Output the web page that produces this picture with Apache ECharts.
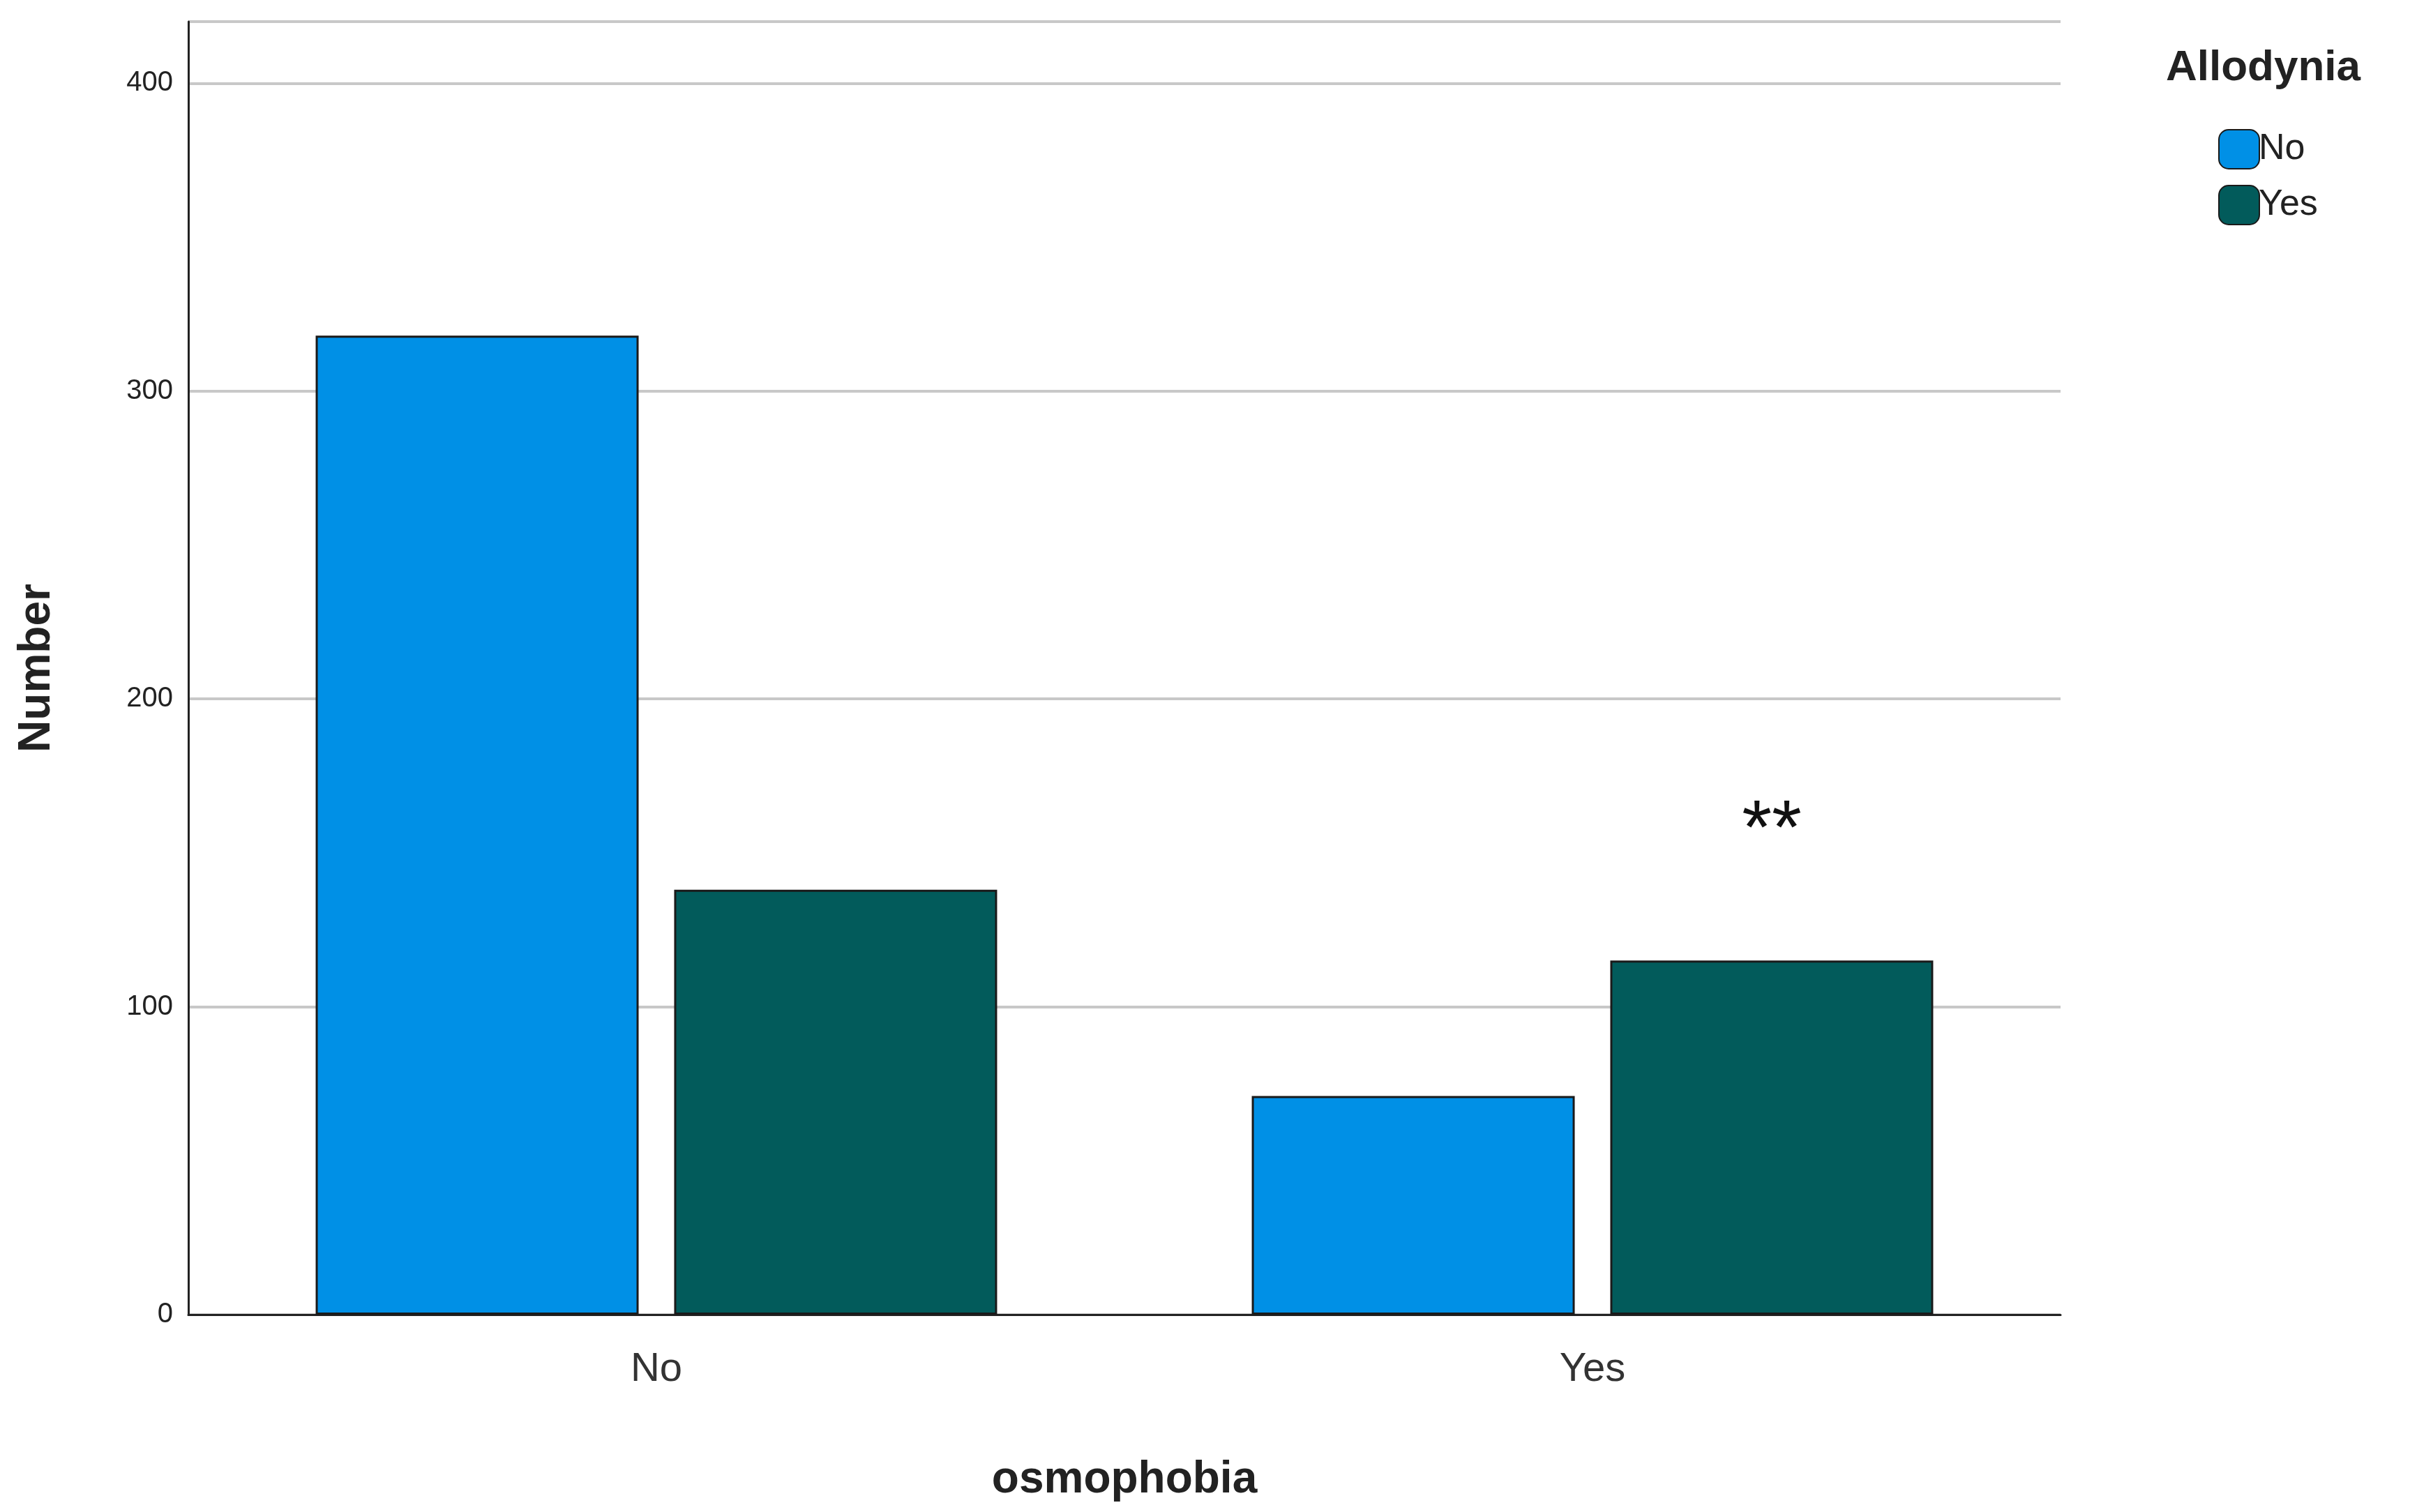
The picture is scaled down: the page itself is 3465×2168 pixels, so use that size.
<!DOCTYPE html>
<html style="height: 100%">
<head>
    <meta charset="utf-8">
    <title>osmophobia</title>
    <script type="text/javascript" src="https://cdn.jsdelivr.net/npm/echarts@6/dist/echarts.min.js"></script>
</head>
<body style="width: 100%;margin: 0;height: 100%;background: #fff">
<div id="container" style="width: 3465px;height: 2168px"></div>
<script type="application/javascript">
    var categories = ['No', 'Yes'];
    var allodyniaNo = [318, 71];
    var allodyniaYes = [138, 115];
    var yTicks = [0, 100, 200, 300, 400];

    var myChart = echarts.init(document.getElementById('container'));

    var option = {
        backgroundColor: '#fff',
        textStyle: {fontFamily: 'Arial, Liberation Sans'},
        title: {
            text: 'Allodynia',
            left: 3100, top: 62,
            textStyle: {fontSize: 62, fontWeight: 'bold', color: '#222'}
        },
        legend: {
            orient: 'vertical',
            left: 3175, top: 180,
            itemWidth: 58, itemHeight: 56, itemGap: 22,
            textStyle: {fontSize: 52, color: '#222', padding: [0, 0, 0, -6]},
            data: ['No', 'Yes']
        },
        grid: {left: 270, right: 511, top: 31, bottom: 283},
        xAxis: {
            type: 'category',
            data: categories,
            name: 'osmophobia',
            nameLocation: 'middle',
            nameGap: 205,
            nameTextStyle: {fontSize: 64, fontWeight: 'bold', color: '#222'},
            axisLine: {lineStyle: {color: '#222', width: 3}},
            axisTick: {show: false},
            axisLabel: {fontSize: 58, color: '#333', margin: 50}
        },
        yAxis: {
            type: 'value',
            min: 0, max: 420, interval: 100,
            name: 'Number',
            nameLocation: 'middle',
            nameGap: 185,
            nameTextStyle: {fontSize: 64, fontWeight: 'bold', color: '#222'},
            axisLine: {show: true, lineStyle: {color: '#222', width: 3}},
            axisTick: {show: false},
            axisLabel: {
                fontSize: 40, color: '#222', margin: 22,
                formatter: function (v) { return yTicks.indexOf(v) >= 0 ? v : ''; }
            },
            splitLine: {lineStyle: {color: '#c8c8c8', width: 4}}
        },
        series: [
            {
                name: 'No', type: 'bar', data: allodyniaNo,
                barWidth: '34.5%', barGap: '11%',
                itemStyle: {color: '#0090e6', borderColor: '#1a1a1a', borderWidth: 3}
            },
            {
                name: 'Yes', type: 'bar',
                data: [allodyniaYes[0], {
                    value: allodyniaYes[1],
                    label: {show: true, position: 'top', distance: 130, formatter: '**',
                        fontSize: 110, color: '#111'}
                }],
                barWidth: '34.5%',
                itemStyle: {color: '#025b5b', borderColor: '#1a1a1a', borderWidth: 3}
            }
        ]
    };
    myChart.setOption(option);
</script>
</body>
</html>
